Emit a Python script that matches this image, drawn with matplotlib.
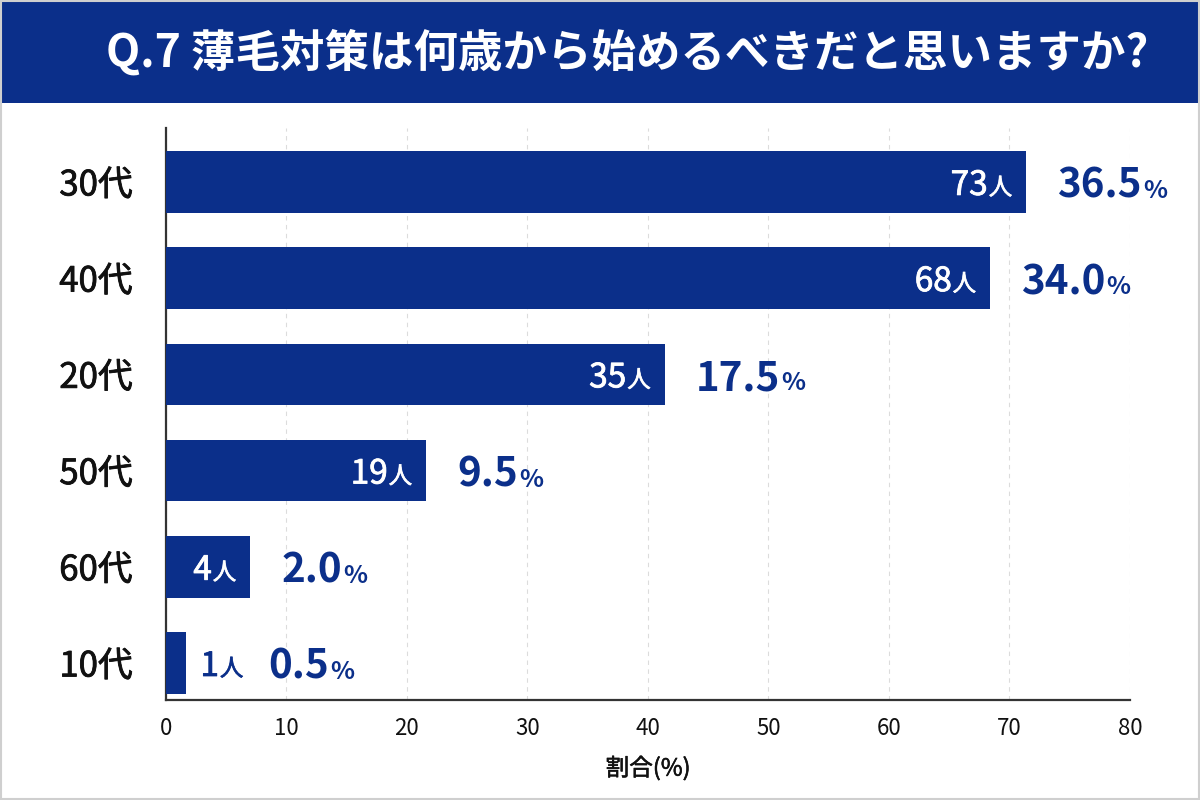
import matplotlib.pyplot as plt
from matplotlib.patches import Rectangle
from matplotlib import patheffects as pe

plt.rcParams['font.family'] = ['Noto Sans CJK JP', 'DejaVu Sans']

# data (top to bottom, as drawn)
ages = ["30代", "40代", "20代", "50代", "60代", "10代"]
bar_lengths = [71.4, 68.4, 41.4, 21.6, 7.0, 1.7]
counts = [73, 68, 35, 19, 4, 1]
shares = ["36.5", "34.0", "17.5", "9.5", "2.0", "0.5"]
x_ticks = [0, 10, 20, 30, 40, 50, 60, 70, 80]

title = "Q.7 薄毛対策は何歳から始めるべきだと思いますか?"
xlabel = "割合(%)"

navy = "#0b2f8a"


def thick(color, w=0.5):
    # fake a medium weight by stroking the glyphs
    return [pe.withStroke(linewidth=w, foreground=color)]


fig = plt.figure(figsize=(12, 8), dpi=100)
fig.patch.set_facecolor("white")

# title banner
fig.patches.append(Rectangle((0, 0.871), 1, 0.129, transform=fig.transFigure,
                             facecolor=navy, edgecolor="none", zorder=0))
fig.patches.append(Rectangle((0.001, 0.001), 0.998, 0.998, transform=fig.transFigure,
                             facecolor="none", edgecolor="#cfcfcf", lw=1.5, zorder=5))
fig.text(0.523, 0.933, title, color="white", fontsize=32, fontweight="bold",
         ha="center", va="center")

ax = fig.add_axes([0.1383, 0.125, 0.8033, 0.715])
pos = list(range(len(ages)))
ax.barh(pos, bar_lengths, height=0.64, color=navy, zorder=3)

ax.set_xlim(0, 80)
ax.set_ylim(5.385, -0.56)
ax.set_xticks(x_ticks)
ax.set_yticks(pos)
ax.set_yticklabels(ages)
ax.tick_params(axis="y", length=0, pad=24, labelsize=25, labelcolor="#111111")
ax.tick_params(axis="x", length=0, pad=12, labelsize=16, labelcolor="#111111")
for lab in ax.get_yticklabels():
    lab.set_path_effects(thick("#111111", 0.6))
ax.set_xlabel(xlabel, fontsize=17, labelpad=12, color="#111111")
ax.xaxis.label.set_path_effects(thick("#111111", 0.4))

for s in ["top", "right"]:
    ax.spines[s].set_visible(False)
for s in ["left", "bottom"]:
    ax.spines[s].set_color("#333333")
    ax.spines[s].set_linewidth(1.6)
ax.xaxis.grid(True, color="#dcdcdc", linestyle=(0, (4, 4)), lw=0.8, zorder=0)
ax.set_axisbelow(True)

fig.canvas.draw()
renderer = fig.canvas.get_renderer()

for i, (v, c, p) in enumerate(zip(bar_lengths, counts, shares)):
    inside = v > 3
    if inside:
        unit = ax.annotate("人", xy=(v, i), xytext=(-14, -13), textcoords="offset pixels",
                           ha="right", va="baseline", color="white", fontsize=17,
                           zorder=4, path_effects=thick("white", 0.5))
        ext = unit.get_window_extent(renderer)
        ax.annotate(str(c), xy=(v, i), xytext=(-14 - ext.width - 1, -13),
                    textcoords="offset pixels", ha="right", va="baseline",
                    color="white", fontsize=24, zorder=4,
                    path_effects=thick("white", 0.6))
        right_px = 0
    else:
        num = ax.annotate(str(c), xy=(v, i), xytext=(14, -13), textcoords="offset pixels",
                          ha="left", va="baseline", color=navy, fontsize=24,
                          zorder=4, path_effects=thick(navy, 0.6))
        ext = num.get_window_extent(renderer)
        unit = ax.annotate("人", xy=(v, i), xytext=(14 + ext.width + 1, -13),
                           textcoords="offset pixels", ha="left", va="baseline",
                           color=navy, fontsize=17, zorder=4,
                           path_effects=thick(navy, 0.5))
        uext = unit.get_window_extent(renderer)
        bar_end = ax.transData.transform((v, i))[0]
        right_px = uext.x1 - bar_end - 6
    dx = 31 + right_px
    pct = ax.annotate(p, xy=(v, i), xytext=(dx, -16), textcoords="offset pixels",
                      ha="left", va="baseline", color=navy, fontsize=29,
                      fontweight="bold", zorder=4)
    pext = pct.get_window_extent(renderer)
    ax.annotate("%", xy=(v, i), xytext=(dx + pext.width + 1, -16), textcoords="offset pixels",
                ha="left", va="baseline", color=navy, fontsize=18,
                fontweight="bold", zorder=4)

fig.savefig("out.png", dpi=100)
